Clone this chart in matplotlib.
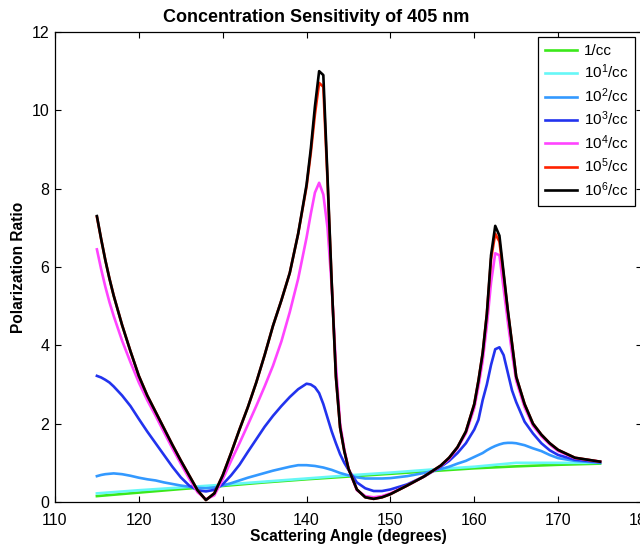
import matplotlib
matplotlib.use('Agg')
import matplotlib.pyplot as plt

plt.rcParams['font.family'] = ['Liberation Sans', 'DejaVu Sans']
plt.rcParams['mathtext.fontset'] = 'custom'
plt.rcParams['mathtext.rm'] = 'Liberation Sans'

# scattering angles (degrees) for the denser curves
angles = [115, 115.5, 116, 116.5, 117, 118, 119, 120, 121, 122,
          123, 124, 125, 126, 127, 128, 129, 130, 131, 132,
          133, 134, 135, 136, 137, 138, 139, 140, 140.5, 141,
          141.5, 142, 142.5, 143, 143.5, 144, 144.5, 145, 146, 147,
          148, 149, 150, 152, 154, 156, 157, 158, 159, 160,
          160.5, 161, 161.5, 162, 162.5, 163, 163.5, 164, 164.5, 165,
          166, 167, 168, 169, 170, 172, 175]

# low-concentration curves, coarser sampling
angles_low = [115, 120, 125, 130, 135, 140, 145, 150, 155, 160, 165, 170, 175]
cc_1 = [0.15, 0.24, 0.33, 0.41, 0.50, 0.58, 0.65, 0.72, 0.79, 0.86, 0.91, 0.95, 0.98]
cc_1e1 = [0.22, 0.30, 0.37, 0.44, 0.52, 0.60, 0.68, 0.75, 0.83, 0.90, 1.00, 1.00, 1.00]

cc_1e2 = [0.66, 0.69, 0.71, 0.72, 0.73, 0.71, 0.67, 0.62, 0.58, 0.55,
          0.50, 0.46, 0.42, 0.39, 0.36, 0.35, 0.37, 0.42, 0.48, 0.55,
          0.62, 0.68, 0.74, 0.80, 0.85, 0.90, 0.94, 0.94, 0.93, 0.92,
          0.90, 0.88, 0.85, 0.82, 0.78, 0.74, 0.71, 0.68, 0.63, 0.60,
          0.60, 0.60, 0.61, 0.66, 0.74, 0.84, 0.90, 0.98, 1.05, 1.15,
          1.20, 1.25, 1.32, 1.38, 1.43, 1.47, 1.50, 1.51, 1.51, 1.50,
          1.45, 1.37, 1.30, 1.20, 1.12, 1.05, 1.00]

cc_1e3 = [3.22, 3.18, 3.12, 3.05, 2.95, 2.72, 2.45, 2.12, 1.80, 1.50,
          1.20, 0.90, 0.63, 0.42, 0.30, 0.27, 0.31, 0.45, 0.68, 0.95,
          1.28, 1.60, 1.92, 2.20, 2.45, 2.68, 2.88, 3.02, 3.00, 2.93,
          2.78, 2.50, 2.15, 1.80, 1.50, 1.22, 1.00, 0.82, 0.50, 0.35,
          0.28, 0.28, 0.32, 0.45, 0.65, 0.90, 1.05, 1.25, 1.50, 1.85,
          2.10, 2.60, 3.00, 3.50, 3.90, 3.95, 3.75, 3.30, 2.85, 2.55,
          2.05, 1.75, 1.50, 1.32, 1.20, 1.08, 1.02]

cc_1e4 = [6.45, 5.95, 5.50, 5.10, 4.75, 4.12, 3.57, 3.05, 2.60, 2.20,
          1.78, 1.37, 0.98, 0.60, 0.25, 0.07, 0.17, 0.58, 1.05, 1.50,
          1.97, 2.45, 2.95, 3.48, 4.10, 4.85, 5.70, 6.75, 7.35, 7.90,
          8.15, 7.85, 7.00, 5.50, 3.50, 2.00, 1.35, 0.85, 0.30, 0.15,
          0.12, 0.15, 0.22, 0.42, 0.65, 0.92, 1.10, 1.38, 1.75, 2.40,
          2.95, 3.60, 4.50, 5.60, 6.35, 6.30, 5.45, 4.60, 3.80, 3.10,
          2.42, 1.95, 1.68, 1.47, 1.30, 1.12, 1.03]

cc_1e5 = [7.28, 6.72, 6.18, 5.70, 5.27, 4.52, 3.85, 3.22, 2.72, 2.30,
          1.88, 1.46, 1.06, 0.68, 0.30, 0.05, 0.22, 0.68, 1.25, 1.85,
          2.42, 3.05, 3.75, 4.50, 5.15, 5.85, 6.85, 8.05, 8.90, 9.90,
          10.7, 10.6, 8.20, 5.60, 3.20, 1.90, 1.30, 0.85, 0.32, 0.12,
          0.08, 0.12, 0.20, 0.42, 0.65, 0.93, 1.13, 1.40, 1.80, 2.50,
          3.10, 3.80, 4.80, 6.20, 6.85, 6.65, 5.80, 4.88, 4.05, 3.20,
          2.50, 2.00, 1.72, 1.50, 1.33, 1.13, 1.03]

cc_1e6 = [7.30, 6.72, 6.18, 5.70, 5.27, 4.52, 3.85, 3.22, 2.72, 2.30,
          1.88, 1.46, 1.06, 0.68, 0.30, 0.05, 0.22, 0.68, 1.25, 1.85,
          2.42, 3.05, 3.75, 4.50, 5.15, 5.85, 6.85, 8.10, 9.00, 10.1,
          11.0, 10.9, 8.30, 5.60, 3.20, 1.90, 1.30, 0.85, 0.32, 0.12,
          0.08, 0.12, 0.20, 0.42, 0.65, 0.93, 1.13, 1.40, 1.80, 2.50,
          3.10, 3.80, 4.80, 6.30, 7.05, 6.80, 5.85, 4.90, 4.05, 3.20,
          2.50, 2.00, 1.72, 1.50, 1.33, 1.13, 1.03]

labels = ['1/cc', r'$\mathregular{10^1}$/cc', r'$\mathregular{10^2}$/cc', r'$\mathregular{10^3}$/cc',
          r'$\mathregular{10^4}$/cc', r'$\mathregular{10^5}$/cc', r'$\mathregular{10^6}$/cc']
colors = ['#3be81a', '#66f7f7', '#3399ff', '#2233ee', '#ff44ff', '#ff2200', '#000000']

fig = plt.figure(figsize=(6.4, 5.46), dpi=100)
ax = fig.add_axes([0.0859, 0.0806, 0.9172, 0.8608])

series = [(angles_low, cc_1), (angles_low, cc_1e1), (angles, cc_1e2), (angles, cc_1e3),
          (angles, cc_1e4), (angles, cc_1e5), (angles, cc_1e6)]
for (xs, ys), lab, col in zip(series, labels, colors):
    ax.plot(xs, ys, color=col, lw=1.9, label=lab)

ax.set_xlim(110, 180)
ax.set_ylim(0, 12)
ax.set_xticks(range(110, 181, 10))
ax.set_yticks(range(0, 13, 2))
ax.tick_params(direction='in', top=True, right=True, length=4, width=0.8, labelsize=11.5)
ax.tick_params(axis='x', pad=8)
ax.tick_params(axis='y', pad=4)
for s in ax.spines.values():
    s.set_linewidth(0.9)

# title sits left of the axes centre in the original
ax.set_title('Concentration Sensitivity of 405 nm', fontsize=13, fontweight='bold',
             pad=7, x=0.445)
ax.set_xlabel('Scattering Angle (degrees)', fontsize=11.2, fontweight='bold', labelpad=1)
ax.set_ylabel('Polarization Ratio', fontsize=11.2, fontweight='bold', labelpad=4)

leg = ax.legend(loc='upper right', bbox_to_anchor=(635 / 640, (546 - 37) / 546),
                bbox_transform=fig.transFigure, borderaxespad=0, fontsize=11,
                handlelength=2.1, labelspacing=0.32, fancybox=False, framealpha=1,
                edgecolor='black', handletextpad=0.45, borderpad=0.45)
leg.get_frame().set_linewidth(0.9)

fig.savefig('out.png', dpi=100)
